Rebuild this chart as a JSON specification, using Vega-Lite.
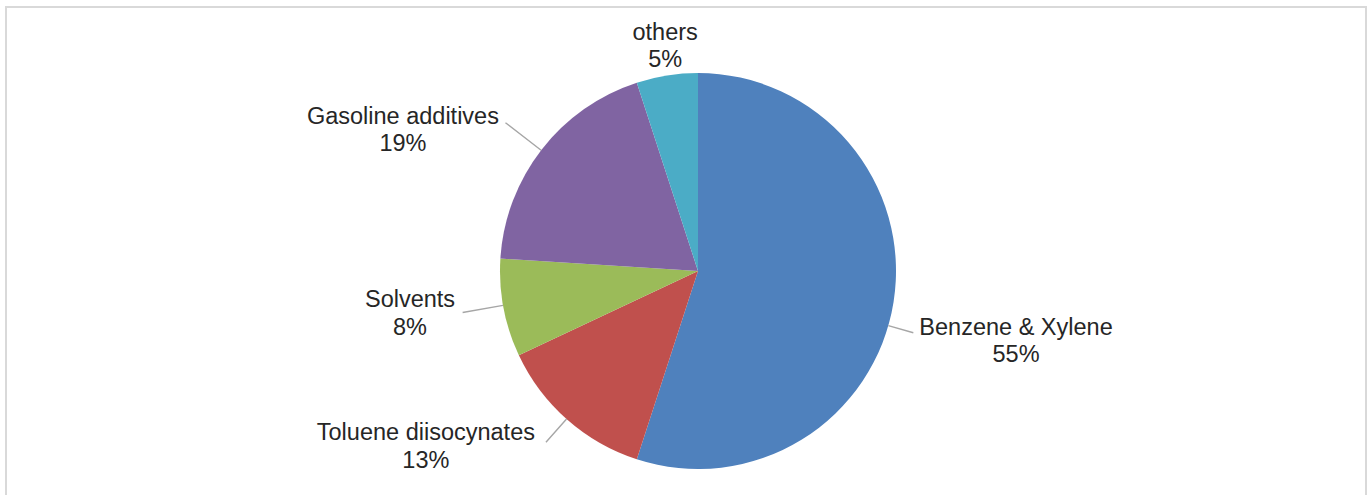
{
  "$schema": "https://vega.github.io/schema/vega-lite/v6.json",
  "width": 1360,
  "height": 490,
  "autosize": {"type": "none"},
  "padding": {"left": 6, "top": 7, "right": 6, "bottom": -2},
  "background": "white",
  "view": {"stroke": "#d9d9d9", "strokeWidth": 2},
  "config": {"view": {"stroke": "#d9d9d9", "strokeWidth": 2}},
  "data": {
    "values": [
      {"category": "Benzene & Xylene", "share": 55, "rank": 1, "label": "Benzene & Xylene\n55%"},
      {"category": "Toluene diisocynates", "share": 13, "rank": 2, "label": "Toluene diisocynates\n13%"},
      {"category": "Solvents", "share": 8, "rank": 3, "label": "Solvents\n8%"},
      {"category": "Gasoline additives", "share": 19, "rank": 4, "label": "Gasoline additives\n19%"},
      {"category": "others", "share": 5, "rank": 5, "label": "others\n5%"}
    ]
  },
  "encoding": {
    "theta": {"field": "share", "type": "quantitative", "stack": true},
    "order": {"field": "rank", "type": "quantitative"},
    "detail": {"field": "category", "type": "nominal"}
  },
  "layer": [
    {
      "mark": {"type": "arc", "radius": 198, "xOffset": 12, "yOffset": 19},
      "encoding": {
        "color": {
          "field": "category",
          "type": "nominal",
          "scale": {
            "domain": ["Benzene & Xylene", "Toluene diisocynates", "Solvents", "Gasoline additives", "others"],
            "range": ["#4F81BD", "#C0504D", "#9BBB59", "#8064A2", "#4BACC6"]
          },
          "legend": null
        }
      }
    },
    {
      "mark": {"type": "arc", "fill": "transparent", "strokeWidth": 1.4, "innerRadius": 198, "outerRadius": 224, "padAngle": 3, "thetaOffset": -4.2761, "xOffset": 12, "yOffset": 19},
      "encoding": {
        "stroke": {"condition": {"test": "datum.category === 'others'", "value": "#a6a6a6"}, "value": "transparent"},
        "opacity": {"condition": {"test": "datum.category === 'others'", "value": 1}, "value": 0}
      }
    },
    {
      "mark": {"type": "arc", "fill": "transparent", "strokeWidth": 1.4, "innerRadius": 198, "outerRadius": 229, "padAngle": 3, "thetaOffset": 0.0035, "xOffset": 12, "yOffset": 19},
      "encoding": {
        "stroke": {"condition": {"test": "datum.category === 'Toluene diisocynates'", "value": "#a6a6a6"}, "value": "transparent"},
        "opacity": {"condition": {"test": "datum.category === 'Toluene diisocynates'", "value": 1}, "value": 0}
      }
    },
    {
      "mark": {"type": "arc", "fill": "transparent", "strokeWidth": 1.4, "innerRadius": 198, "outerRadius": 239, "padAngle": 3, "thetaOffset": 0.014, "xOffset": 12, "yOffset": 19},
      "encoding": {
        "stroke": {"condition": {"test": "datum.category === 'Solvents'", "value": "#a6a6a6"}, "value": "transparent"},
        "opacity": {"condition": {"test": "datum.category === 'Solvents'", "value": 1}, "value": 0}
      }
    },
    {
      "mark": {"type": "arc", "fill": "transparent", "strokeWidth": 1.4, "innerRadius": 198, "outerRadius": 243, "padAngle": 3, "thetaOffset": -0.0035, "xOffset": 12, "yOffset": 19},
      "encoding": {
        "stroke": {"condition": {"test": "datum.category === 'Gasoline additives'", "value": "#a6a6a6"}, "value": "transparent"},
        "opacity": {"condition": {"test": "datum.category === 'Gasoline additives'", "value": 1}, "value": 0}
      }
    },
    {
      "mark": {"type": "text", "radius": 325.6, "thetaOffset": 0.059, "xOffset": 12, "yOffset": 19, "dy": -13, "fontSize": 23.5, "font": "Liberation Sans", "fill": "#262626", "lineBreak": "\n", "lineHeight": 27.5, "align": "center", "baseline": "middle"},
      "encoding": {"text": {"condition": {"test": "datum.category === 'Benzene & Xylene'", "field": "label", "type": "nominal"}, "value": ""}}
    },
    {
      "mark": {"type": "text", "radius": 323.7, "thetaOffset": 0.276, "xOffset": 12, "yOffset": 19, "dy": -13, "fontSize": 23.5, "font": "Liberation Sans", "fill": "#262626", "lineBreak": "\n", "lineHeight": 27.5, "align": "center", "baseline": "middle"},
      "encoding": {"text": {"condition": {"test": "datum.category === 'Toluene diisocynates'", "field": "label", "type": "nominal"}, "value": ""}}
    },
    {
      "mark": {"type": "text", "radius": 291.1, "thetaOffset": 0.042, "xOffset": 12, "yOffset": 19, "dy": -13, "fontSize": 23.5, "font": "Liberation Sans", "fill": "#262626", "lineBreak": "\n", "lineHeight": 27.5, "align": "center", "baseline": "middle"},
      "encoding": {"text": {"condition": {"test": "datum.category === 'Solvents'", "field": "label", "type": "nominal"}, "value": ""}}
    },
    {
      "mark": {"type": "text", "radius": 327.2, "thetaOffset": -0.213, "xOffset": 12, "yOffset": 19, "dy": -13, "fontSize": 23.5, "font": "Liberation Sans", "fill": "#262626", "lineBreak": "\n", "lineHeight": 27.5, "align": "center", "baseline": "middle"},
      "encoding": {"text": {"condition": {"test": "datum.category === 'Gasoline additives'", "field": "label", "type": "nominal"}, "value": ""}}
    },
    {
      "mark": {"type": "text", "radius": 227.4, "thetaOffset": 0.012, "xOffset": 12, "yOffset": 19, "dy": -13, "fontSize": 23.5, "font": "Liberation Sans", "fill": "#262626", "lineBreak": "\n", "lineHeight": 27.5, "align": "center", "baseline": "middle"},
      "encoding": {"text": {"condition": {"test": "datum.category === 'others'", "field": "label", "type": "nominal"}, "value": ""}}
    }
  ]
}
